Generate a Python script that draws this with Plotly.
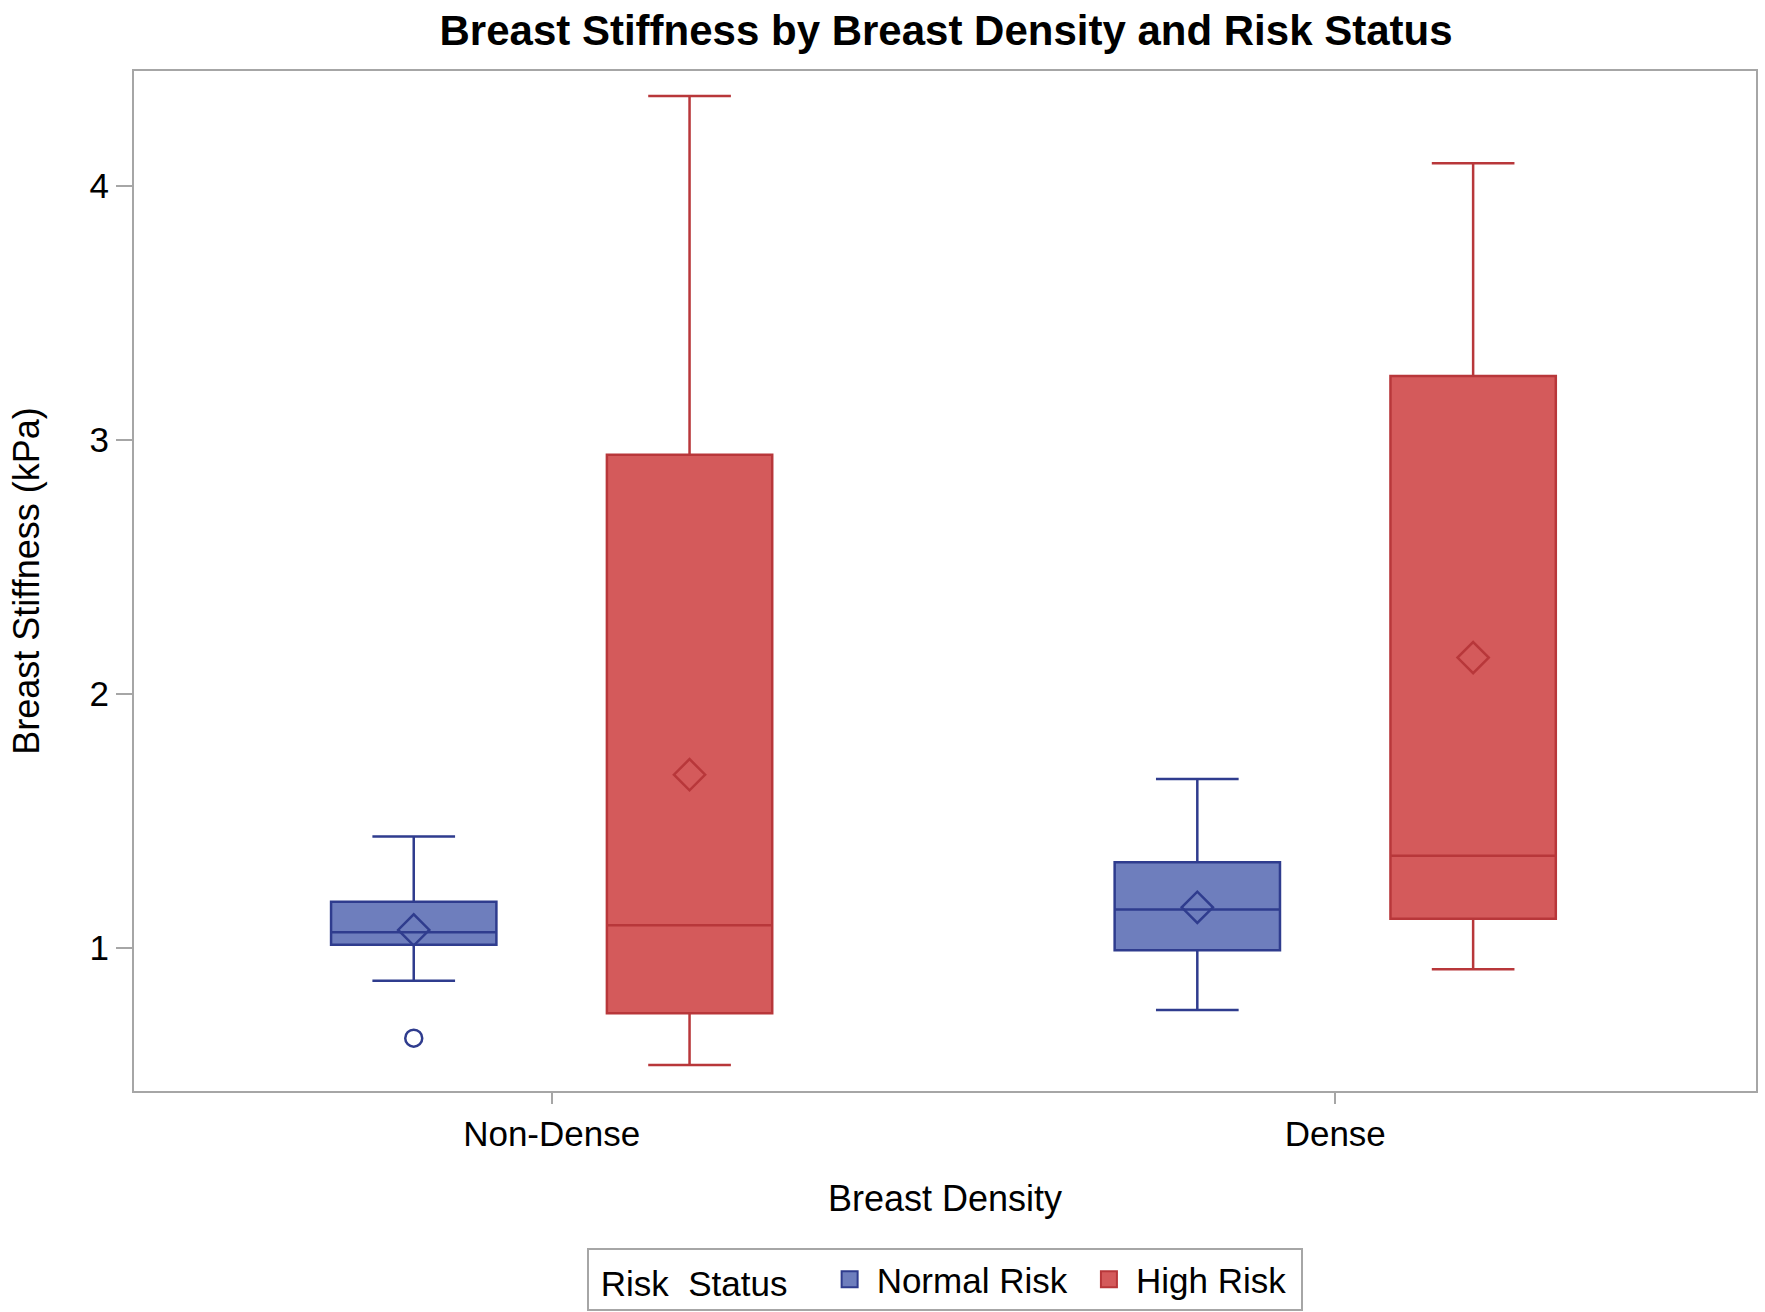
import plotly.graph_objects as go

# --- DATA ---
densities = ["Non-Dense", "Dense"]
risk_groups = ["Normal Risk", "High Risk"]

normal_q1 = [1.013, 0.991]
normal_median = [1.062, 1.151]
normal_q3 = [1.182, 1.337]
normal_low = [0.871, 0.756]
normal_high = [1.439, 1.665]
normal_mean = [1.071, 1.160]

high_q1 = [0.743, 1.115]
high_median = [1.089, 1.363]
high_q3 = [2.941, 3.251]
high_low = [0.539, 0.916]
high_high = [4.354, 4.089]
high_mean = [1.682, 2.143]

outlier_density = ["Non-Dense"]
outlier_value = [0.645]

# --- STYLE ---
FONT = "Liberation Sans, Arial, sans-serif"
BLUE_FILL = "#6E7EBD"
BLUE_LINE = "#2F3C8E"
RED_FILL = "#D45A5B"
RED_LINE = "#B8373A"
FRAME = "#A6A6A6"

OFFSET = 0.176
BOX_W = 0.211

cat_pos = {d: i for i, d in enumerate(densities)}

fig = go.Figure()

groups = [
    ("Normal Risk", -OFFSET, BLUE_FILL, BLUE_LINE,
     normal_q1, normal_median, normal_q3, normal_low, normal_high, normal_mean),
    ("High Risk", OFFSET, RED_FILL, RED_LINE,
     high_q1, high_median, high_q3, high_low, high_high, high_mean),
]

for name, off, fill, line, q1, med, q3, lo, hi, mean in groups:
    xs = [cat_pos[d] + off for d in densities]
    fig.add_trace(go.Box(
        name=name,
        x=xs,
        q1=q1, median=med, q3=q3,
        lowerfence=lo, upperfence=hi,
        width=BOX_W,
        whiskerwidth=0.5,
        fillcolor=fill,
        line=dict(color=line, width=2.5),
        boxpoints=False,
        showlegend=False,
        legendgroup=name,
    ))
    fig.add_trace(go.Scatter(
        x=xs, y=mean,
        mode="markers",
        marker=dict(symbol="diamond-open", size=24, color=line, line=dict(width=2.5, color=line)),
        showlegend=False,
        hoverinfo="y",
    ))
    # legend swatch (square, like the SAS legend); trailing nbsp widens the entry
    fig.add_trace(go.Scatter(
        x=[None], y=[None],
        mode="markers",
        name=name + "&nbsp;",
        legendgroup=name,
        marker=dict(symbol="square", size=22, color=fill, line=dict(width=2, color=line)),
    ))

fig.add_trace(go.Scatter(
    x=[cat_pos[d] - OFFSET for d in outlier_density],
    y=outlier_value,
    mode="markers",
    marker=dict(symbol="circle-open", size=17, color=BLUE_LINE, line=dict(width=2.5, color=BLUE_LINE)),
    showlegend=False,
    hoverinfo="y",
))

fig.update_layout(
    width=1765, height=1312,
    paper_bgcolor="white", plot_bgcolor="white",
    font=dict(family=FONT, size=35, color="black"),
    title=dict(text="<b>Breast Stiffness by Breast Density and Risk Status</b>",
               font=dict(size=42, color="black"),
               x=0.536, xanchor="center", y=0.977, yanchor="middle"),
    margin=dict(l=134, r=9, t=71, b=221, autoexpand=False),
    showlegend=True,
    legend=dict(
        orientation="h", x=0.5, xanchor="center", y=-0.154, yanchor="top",
        title=dict(text="&nbsp;Risk&nbsp; Status&nbsp;&nbsp;&nbsp;", font=dict(size=35)),
        font=dict(size=35),
        bordercolor=FRAME, borderwidth=2,
        itemwidth=44,
    ),
)

fig.update_xaxes(
    range=[-0.533, 1.537],
    tickmode="array",
    tickvals=[cat_pos[d] for d in densities],
    ticktext=densities,
    ticks="outside", ticklen=11, tickcolor=FRAME, tickwidth=2,
    showline=True, linecolor=FRAME, linewidth=2, mirror=True,
    showgrid=False, zeroline=False, automargin=False,
    title=dict(text="Breast Density", font=dict(size=36), standoff=34),
)
fig.update_yaxes(
    range=[0.437, 4.452],
    tickvals=[1, 2, 3, 4],
    ticks="outside", ticklen=16, tickcolor=FRAME, tickwidth=2,
    showline=True, linecolor=FRAME, linewidth=2, mirror=True,
    showgrid=False, zeroline=False, automargin=False,
    title=dict(text="Breast Stiffness (kPa)", font=dict(size=36), standoff=39),
)

# drop the default 8px page margin so the figure sits at the window origin
fig.write_html("out.html", config={"displayModeBar": False},
               post_script="document.body.style.margin='0';")
